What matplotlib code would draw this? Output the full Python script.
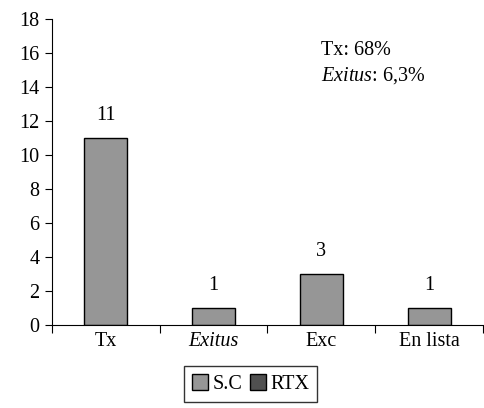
import matplotlib.pyplot as plt
import numpy as np
from matplotlib.patches import Patch

categories = ["Tx", "Exitus", "Exc", "En lista"]
sc_values = [11, 1, 3, 1]
rtx_values = [0, 0, 0, 0]
y_ticks = [0, 2, 4, 6, 8, 10, 12, 14, 16, 18]

plt.rcParams["font.family"] = ["Liberation Serif", "DejaVu Serif"]
plt.rcParams["font.size"] = 14.5
plt.rcParams["mathtext.fontset"] = "custom"
plt.rcParams["mathtext.rm"] = "Liberation Serif"
plt.rcParams["mathtext.it"] = "Liberation Serif:italic"

fig = plt.figure(figsize=(4.84, 4.08), dpi=100)
ax = fig.add_axes([0.107, 0.203, 0.891, 0.75])

x = np.arange(len(categories))
ax.bar(x, sc_values, width=0.4, color="#969696", edgecolor="black", linewidth=1)
for xi, v in zip(x, sc_values):
    ax.text(xi, v + 0.8, str(v), ha="center", va="bottom")

ax.set_xlim(-0.5, len(categories) - 0.5)
ax.set_ylim(0, 18)
ax.set_yticks(y_ticks)
ax.set_xticks(np.arange(len(categories) + 1) - 0.5)
ax.set_xticklabels([])
ax.set_xticks(x, minor=True)
ax.set_xticklabels(categories, minor=True)
ax.get_xticklabels(minor=True)[1].set_style("italic")
ax.tick_params(axis="x", which="minor", length=0, pad=5)
ax.tick_params(axis="x", which="major", length=6, direction="out")
ax.tick_params(axis="y", length=5, direction="out", pad=4)

ax.spines["top"].set_visible(False)
ax.spines["right"].set_visible(False)

ax.text(0.625, 0.93, "Tx: 68%", transform=ax.transAxes, ha="left", va="top")
ax.text(0.625, 0.85, "$\\it{Exitus}$: 6,3%", transform=ax.transAxes, ha="left",
        va="top")

handles = [Patch(facecolor="#969696", edgecolor="black", label="S.C"),
           Patch(facecolor="#505050", edgecolor="black", label="RTX")]
fig.legend(handles=handles, loc="center", bbox_to_anchor=(0.518, 0.058), ncol=2,
           frameon=True, fancybox=False, edgecolor="black",
           handlelength=0.8, handleheight=0.8, handletextpad=0.2,
           columnspacing=0.4, borderpad=0.4)

fig.savefig("out.png", dpi=100)
